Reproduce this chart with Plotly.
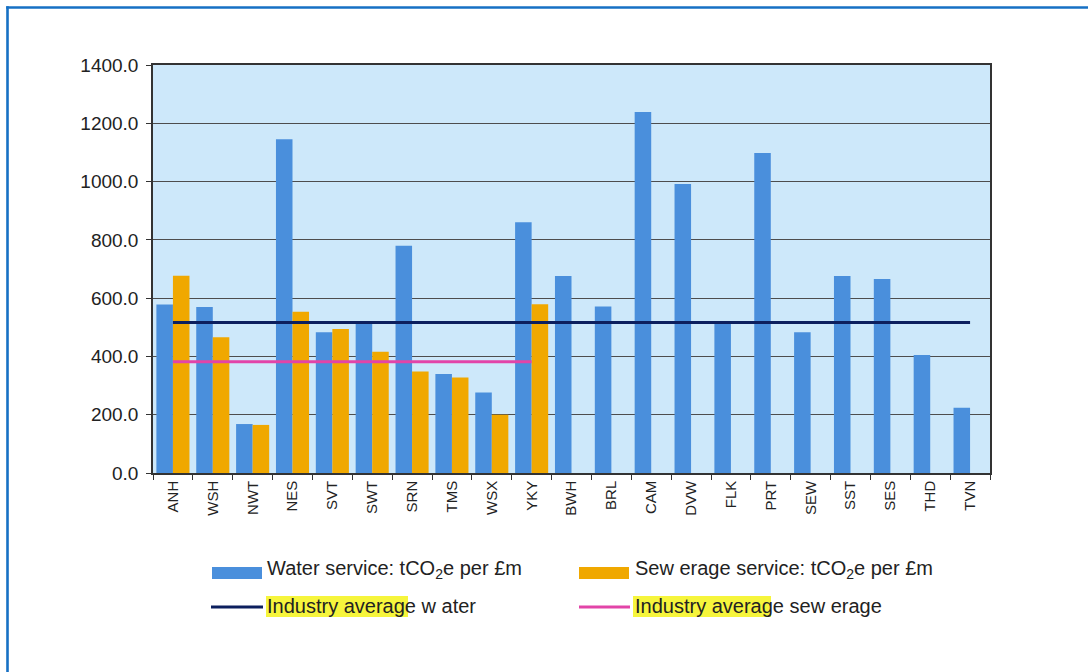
import plotly.graph_objects as go

# Company codes
companies = ["ANH", "WSH", "NWT", "NES", "SVT", "SWT", "SRN", "TMS", "WSX", "YKY",
             "BWH", "BRL", "CAM", "DVW", "FLK", "PRT", "SEW", "SST", "SES", "THD", "TVN"]

# Water service emissions, tCO2e per £m
water_service = [578, 570, 168, 1145, 483, 519, 780, 340, 276, 860,
                 676, 571, 1239, 992, 519, 1098, 483, 676, 666, 405, 224]

# Sewerage service emissions, tCO2e per £m (water-only companies have none)
sewerage_service = [677, 466, 165, 553, 494, 416, 348, 328, 200, 579,
                    None, None, None, None, None, None, None, None, None, None, None]

# Industry averages
industry_avg_water = 516
industry_avg_sewerage = 382

# y-axis ticks
y_ticks = [0, 200, 400, 600, 800, 1000, 1200, 1400]

W, H = 1088, 672
PL, PR, PT, PB = 153, 990, 65, 473  # plot area in pixels


def fx(px):
    return (px - PL) / (PR - PL)


def fy(py):
    return (PB - py) / (PB - PT)


FONT = "Liberation Sans, Arial, sans-serif"
BLUE = "#4A8FDC"
ORANGE = "#F0A800"
NAVY = "#0C1F5E"
MAGENTA = "#E244A8"
TEXT = "#222222"
FRAME = "#1670C4"

sewerage_companies = [c for c, v in zip(companies, sewerage_service) if v is not None]

fig = go.Figure()
fig.add_trace(go.Bar(x=companies, y=water_service, marker_color=BLUE,
                     marker_line_width=0, name="Water service", showlegend=False))
fig.add_trace(go.Bar(x=companies, y=sewerage_service, marker_color=ORANGE,
                     marker_line_width=0, name="Sewerage service", showlegend=False))
fig.add_trace(go.Scatter(x=[companies[0], companies[-1]],
                         y=[industry_avg_water, industry_avg_water],
                         mode="lines", line=dict(color=NAVY, width=3), showlegend=False))
fig.add_trace(go.Scatter(x=[sewerage_companies[0], sewerage_companies[-1]],
                         y=[industry_avg_sewerage, industry_avg_sewerage],
                         mode="lines", line=dict(color=MAGENTA, width=3), showlegend=False))

shapes = []
annotations = []

# outer frame: left and top edges as thin filled bands
shapes.append(dict(type="rect", xref="paper", yref="paper",
                   x0=fx(6.2), x1=fx(8.8), y0=fy(672), y1=fy(6.2),
                   line=dict(width=0), fillcolor=FRAME, layer="below"))
shapes.append(dict(type="rect", xref="paper", yref="paper",
                   x0=fx(6.2), x1=fx(1088), y0=fy(8.8), y1=fy(6.2),
                   line=dict(width=0), fillcolor=FRAME, layer="below"))

# legend: highlight boxes
for x0, x1 in [(266, 408), (633, 771)]:
    shapes.append(dict(type="rect", xref="paper", yref="paper",
                       x0=fx(x0), x1=fx(x1), y0=fy(617), y1=fy(596),
                       line=dict(width=0), fillcolor="#F6F53C", layer="below"))

# legend: swatches
shapes.append(dict(type="rect", xref="paper", yref="paper",
                   x0=fx(212), x1=fx(262), y0=fy(579), y1=fy(567),
                   line=dict(width=0), fillcolor=BLUE))
shapes.append(dict(type="rect", xref="paper", yref="paper",
                   x0=fx(579), x1=fx(629), y0=fy(579), y1=fy(567),
                   line=dict(width=0), fillcolor=ORANGE))
shapes.append(dict(type="line", xref="paper", yref="paper",
                   x0=fx(211), x1=fx(263), y0=fy(607), y1=fy(607),
                   line=dict(color=NAVY, width=3)))
shapes.append(dict(type="line", xref="paper", yref="paper",
                   x0=fx(579), x1=fx(630), y0=fy(607), y1=fy(607),
                   line=dict(color=MAGENTA, width=3)))

legend_texts = [
    (265, 569, "Water service: tCO<sub>2</sub>e per £m"),
    (633, 569, "Sew erage service: tCO<sub>2</sub>e per £m"),
    (265, 606, "Industry average w ater"),
    (633, 606, "Industry average sew erage"),
]
for x, y, t in legend_texts:
    annotations.append(dict(xref="paper", yref="paper", x=fx(x), y=fy(y),
                            xanchor="left", yanchor="middle", showarrow=False,
                            text=t, font=dict(family=FONT, size=20, color=TEXT)))

fig.update_layout(
    width=W, height=H,
    margin=dict(l=PL, r=W - PR, t=PT, b=H - PB, pad=0),
    paper_bgcolor="white",
    plot_bgcolor="#CDE8FA",
    barmode="group",
    bargap=0.17,
    bargroupgap=0,
    shapes=shapes,
    annotations=annotations,
    font=dict(family=FONT, color=TEXT),
    xaxis=dict(
        type="category",
        categoryorder="array", categoryarray=companies,
        tickangle=-90,
        tickfont=dict(family=FONT, size=15, color=TEXT),
        ticks="outside", ticklen=5, tickcolor="#333333", tickwidth=1,
        tickson="boundaries",
        showline=True, linecolor="#333333", linewidth=1.5, mirror=True,
        showgrid=False,
        range=[-0.5, len(companies) - 0.5],
    ),
    yaxis=dict(
        range=[0, 1400],
        tickvals=y_ticks,
        tickformat=".1f",
        tickfont=dict(family=FONT, size=19, color=TEXT),
        ticks="outside", ticklen=5, tickcolor="#333333", tickwidth=1,
        ticklabelstandoff=4,
        showline=True, linecolor="#333333", linewidth=1.5, mirror=True,
        showgrid=True, gridcolor="#4d4d4d", gridwidth=1,
        zeroline=False,
    ),
)

fig.write_html("out.html")
